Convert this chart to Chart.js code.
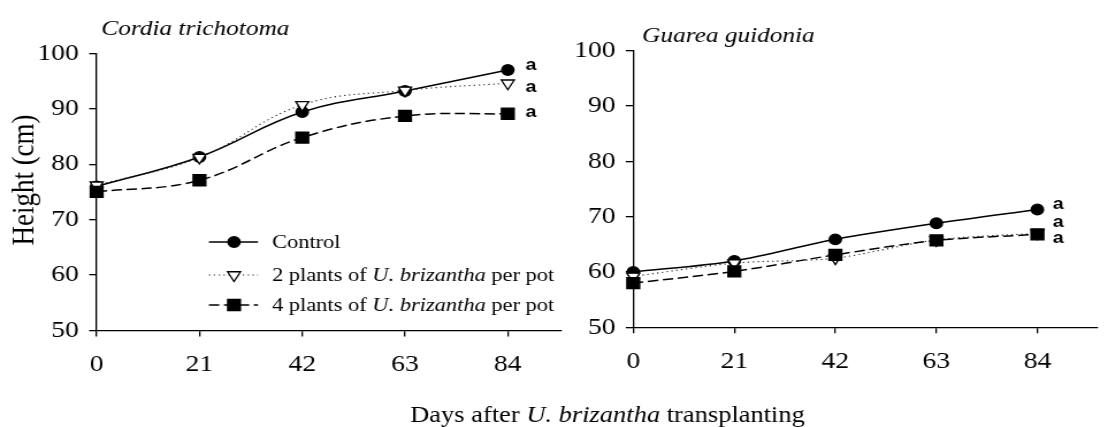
<!DOCTYPE html>
<html>
<head>
<meta charset="utf-8">
<script src="https://cdn.jsdelivr.net/npm/chart.js@4/dist/chart.umd.min.js"></script>
<style>
  html, body { margin: 0; padding: 0; background: #fff; overflow: hidden; }
  #wrap { position: relative; width: 1108px; height: 427px; }
  /* the original figure is a little stretched sideways, so draw narrower and widen */
  #wrap canvas { position: absolute; left: 0; top: 0; width: 1108px !important; height: 427px !important; }
</style>
</head>
<body>
<div id="wrap">
  <canvas id="cordiaChart" width="963" height="427"></canvas>
  <canvas id="guareaChart" width="963" height="427"></canvas>
</div>
<script>
// data
var days = [0, 21, 42, 63, 84];
var heightTicks = [50, 60, 70, 80, 90, 100];
var seriesNames = ['Control', '2 plants of U. brizantha per pot', '4 plants of U. brizantha per pot'];
var letters = ['a', 'a', 'a'];

var cordiaControl = [76.0, 81.3, 89.4, 93.2, 97.0];
var cordiaTwo     = [76.2, 81.2, 90.7, 93.3, 94.6];
var cordiaFour    = [75.0, 77.1, 84.8, 88.7, 89.1];

var guareaControl = [60.0, 62.0, 65.9, 68.8, 71.3];
var guareaTwo     = [59.2, 61.6, 62.5, 65.8, 67.0];
var guareaFour    = [58.0, 60.1, 63.1, 65.7, 66.8];

var serif = '"Liberation Serif", "Times New Roman", serif';

var styles = [
  { borderColor: '#000', borderWidth: 1.5, borderDash: [], pointStyle: 'circle', pointRadius: 5.3, pointRotation: 0, pointBackgroundColor: '#000', order: 3 },
  { borderColor: '#222', borderWidth: 1.1, borderDash: [1.2, 3], pointStyle: 'triangle', pointRadius: 6.5, pointRotation: 180, pointBackgroundColor: '#fff', order: 2 },
  { borderColor: '#000', borderWidth: 1.5, borderDash: [9, 4], pointStyle: 'rect', pointRadius: 7.8, pointRotation: 0, pointBackgroundColor: '#000', order: 1 }
];

function makeDatasets(seriesList, tension) {
  return seriesList.map(function (values, i) {
    var st = styles[i];
    return {
      label: seriesNames[i],
      data: days.map(function (d, j) { return { x: d, y: values[j] }; }),
      borderColor: st.borderColor,
      borderWidth: st.borderWidth,
      borderDash: st.borderDash,
      pointStyle: st.pointStyle,
      pointRadius: st.pointRadius,
      pointRotation: st.pointRotation,
      pointBackgroundColor: st.pointBackgroundColor,
      pointBorderColor: '#000',
      pointBorderWidth: 1.3,
      tension: tension,
      fill: false,
      clip: false,
      order: st.order
    };
  });
}

// draws text with "U. brizantha" in italics
function drawMixed(ctx, text, x, y, size, align) {
  var parts = text.split('U. brizantha');
  var pieces = [];
  parts.forEach(function (p, i) {
    if (i > 0) pieces.push(['U. brizantha', true]);
    if (p) pieces.push([p, false]);
  });
  var total = 0;
  pieces.forEach(function (p) {
    ctx.font = (p[1] ? 'italic ' : '') + size + 'px ' + serif;
    p.w = ctx.measureText(p[0]).width;
    total += p.w;
  });
  var cx = align === 'center' ? x - total / 2 : x;
  ctx.textAlign = 'left';
  pieces.forEach(function (p) {
    ctx.font = (p[1] ? 'italic ' : '') + size + 'px ' + serif;
    ctx.fillText(p[0], cx, y);
    cx += p.w;
  });
}

var paperText = {
  id: 'paperText',
  afterDraw: function (chart, args, opts) {
    var ctx = chart.ctx, xs = chart.scales.x, ys = chart.scales.y;
    ctx.save();
    ctx.fillStyle = '#000';
    ctx.textBaseline = 'alphabetic';
    ctx.textAlign = 'left';
    ctx.font = 'italic 22px ' + serif;
    ctx.fillText(opts.title, opts.titleX, opts.titleY);

    // letters beside the last points
    ctx.font = 'bold 17px "Liberation Sans", Arial, sans-serif';
    ctx.textAlign = 'center';
    ctx.textBaseline = 'middle';
    chart.data.datasets.forEach(function (ds, i) {
      var last = ds.data[ds.data.length - 1];
      ctx.fillText(letters[i], xs.getPixelForValue(last.x) + opts.letterDx, ys.getPixelForValue(last.y) + opts.letterDy[i]);
    });

    if (opts.legend) {
      var rows = [242, 275, 305];
      chart.data.datasets.forEach(function (ds, i) {
        var y = rows[i];
        ctx.save();
        ctx.strokeStyle = ds.borderColor;
        ctx.lineWidth = ds.borderWidth;
        ctx.setLineDash(ds.borderDash);
        ctx.beginPath();
        ctx.moveTo(181.6, y);
        ctx.lineTo(224.2, y);
        ctx.stroke();
        ctx.setLineDash([]);
        ctx.fillStyle = ds.pointBackgroundColor;
        ctx.strokeStyle = '#000';
        ctx.lineWidth = 1.3;
        Chart.helpers.drawPoint(ctx, { pointStyle: ds.pointStyle, radius: ds.pointRadius, rotation: ds.pointRotation, borderWidth: 1.3 }, 203.4, y);
        ctx.restore();
        ctx.fillStyle = '#000';
        ctx.textBaseline = 'middle';
        drawMixed(ctx, ds.label, 236.4, y + 1, 19.5, 'left');
      });

      // shared axis titles
      ctx.textBaseline = 'alphabetic';
      drawMixed(ctx, 'Days after U. brizantha transplanting', 528, 422, 23, 'center');
      ctx.save();
      ctx.translate(21.7, 180);
      ctx.rotate(-Math.PI / 2);
      ctx.textAlign = 'center';
      ctx.textBaseline = 'middle';
      ctx.font = '27px ' + serif;
      ctx.fillText('Height (cm)', 0, 0);
      ctx.restore();
    }
    ctx.restore();
  }
};

function makeOptions(xMax, pad, xHeight, textOpts) {
  return {
    responsive: false,
    devicePixelRatio: 1,
    animation: false,
    layout: { padding: pad },
    scales: {
      x: {
        type: 'linear',
        min: 0,
        max: xMax,
        afterBuildTicks: function (s) { s.ticks = days.map(function (v) { return { value: v }; }); },
        afterFit: function (s) { s.height = xHeight; },
        border: { display: true, color: '#000', width: 1.3 },
        grid: { drawOnChartArea: false, drawTicks: true, tickLength: 6, color: '#000', lineWidth: 1.3 },
        ticks: { color: '#000', padding: 14, maxRotation: 0, font: { family: serif, size: 24 } }
      },
      y: {
        type: 'linear',
        min: 50,
        max: 100,
        afterBuildTicks: function (s) { s.ticks = heightTicks.map(function (v) { return { value: v }; }); },
        afterFit: function (s) { s.width = 84; },
        border: { display: true, color: '#000', width: 1.3 },
        grid: { drawOnChartArea: false, drawTicks: true, tickLength: 6.5, color: '#000', lineWidth: 1.3 },
        ticks: { color: '#000', padding: 9, font: { family: serif, size: 24 } }
      }
    },
    plugins: {
      legend: { display: false },
      tooltip: { enabled: false },
      paperText: textOpts
    }
  };
}

new Chart(document.getElementById('cordiaChart'), {
  type: 'line',
  data: { datasets: makeDatasets([cordiaControl, cordiaTwo, cordiaFour], 0.4) },
  options: makeOptions(94.8, { left: 0, right: 475.7, top: 53.3, bottom: 0 }, 96.5, {
    title: 'Cordia trichotoma', titleX: 88, titleY: 35, legend: true,
    letterDx: 20, letterDy: [-5, 3.7, -1.3]
  }),
  plugins: [paperText]
});

new Chart(document.getElementById('guareaChart'), {
  type: 'line',
  data: { datasets: makeDatasets([guareaControl, guareaTwo, guareaFour], 0.3) },
  options: makeOptions(96.5, { left: 466.4, right: 0, top: 50.7, bottom: 0 }, 99.7, {
    title: 'Guarea guidonia', titleX: 558, titleY: 41.7, legend: false,
    letterDx: 18, letterDy: [-5.5, -10.6, 3.6]
  }),
  plugins: [paperText]
});
</script>
</body>
</html>
